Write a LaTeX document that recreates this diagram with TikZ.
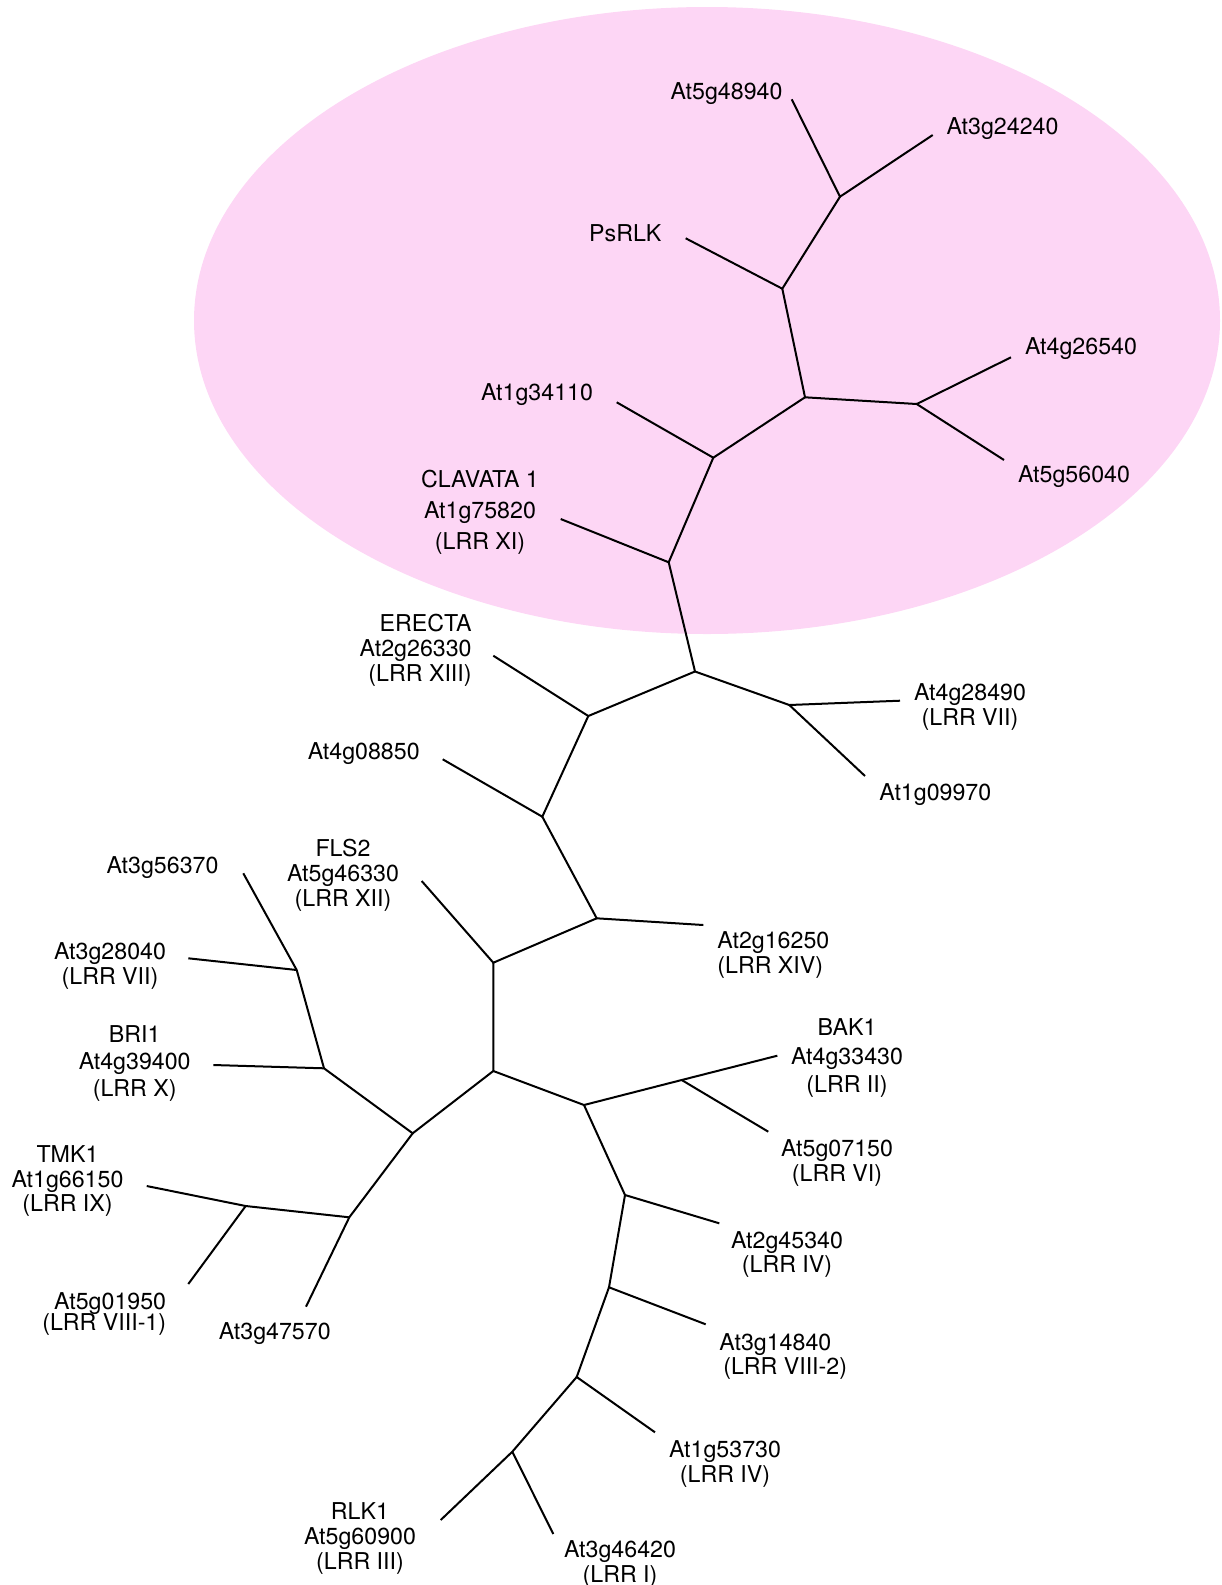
\documentclass[tikz,border=0pt]{standalone}
\usepackage{fontspec}
\setmainfont{TeX Gyre Heros}
\definecolor{clade_pink}{RGB}{253, 214, 245}
\tikzstyle{lbl}=[inner sep=0pt,align=center,font=\fontsize{11.6}{12.4}\selectfont]
\tikzstyle{br}=[line width=1pt]

\begin{document}
\begin{tikzpicture}[x=0.5pt,y=-0.5pt]
        \useasboundingbox (0,0) rectangle (1221,1585);
        \fill[clade_pink] (707,320.5) ellipse (513 and 313.5);

        % branch points
        \coordinate (jA) at (840,196.7);
        \coordinate (jB) at (782.3,288.7);
        \coordinate (jC) at (805,397.3);
        \coordinate (jD) at (916.7,404);
        \coordinate (jE) at (713.3,457.7);
        \coordinate (jF) at (668.7,562.3);
        \coordinate (jG) at (695,671.5);
        \coordinate (jJ) at (789.3,705);
        \coordinate (jH) at (588.3,716);
        \coordinate (jI) at (542.3,816.7);
        \coordinate (jK) at (596.7,918.3);
        \coordinate (jL) at (493.3,962.7);
        \coordinate (jM) at (493.3,1071);
        \coordinate (jN) at (584,1105);
        \coordinate (jT) at (681.7,1080);
        \coordinate (jU) at (625,1195);
        \coordinate (jV) at (609,1287.3);
        \coordinate (jW) at (576.7,1377);
        \coordinate (jX) at (512.3,1451.7);
        \coordinate (jQ) at (412.7,1133.3);
        \coordinate (jP) at (324,1068.3);
        \coordinate (jO) at (296.7,970);
        \coordinate (jS) at (349.3,1217.3);
        \coordinate (jR) at (245.7,1206);

        % leaf ends
        \coordinate (e5g48940) at (791.7,99.3);
        \coordinate (e3g24240) at (932.7,135);
        \coordinate (ePsRLK) at (685.7,238.3);
        \coordinate (e4g26540) at (1011,357.3);
        \coordinate (e5g56040) at (1004,460);
        \coordinate (e1g34110) at (616.7,402.3);
        \coordinate (eCLV) at (560.7,519);
        \coordinate (e4g28490) at (900,700.7);
        \coordinate (e1g09970) at (865,776);
        \coordinate (eERECTA) at (493.3,655.7);
        \coordinate (e4g08850) at (442.7,759.3);
        \coordinate (e2g16250) at (703.3,925);
        \coordinate (eFLS2) at (421.7,881);
        \coordinate (eBAK1) at (777.3,1055.7);
        \coordinate (e5g07150) at (768.3,1131.7);
        \coordinate (e2g45340) at (719.3,1223.3);
        \coordinate (e3g14840) at (705.7,1324.3);
        \coordinate (e1g53730) at (655,1432.3);
        \coordinate (eRLK1) at (440.7,1520);
        \coordinate (e3g46420) at (553.3,1534);
        \coordinate (eBRI1) at (213.3,1065);
        \coordinate (e3g56370) at (243.3,873.3);
        \coordinate (e3g28040) at (188.3,958.3);
        \coordinate (e3g47570) at (306,1306.7);
        \coordinate (eTMK1) at (146.7,1186);
        \coordinate (e5g01950) at (188.3,1284);

        % labels
        \node[style=lbl] (l5g48940) at (726.5,94) {At5g48940};
        \node[style=lbl] (l3g24240) at (1002.5,129) {At3g24240};
        \node[style=lbl] (lPsRLK) at (625.3,233) {PsRLK};
        \node[style=lbl] (l4g26540) at (1081,349) {At4g26540};
        \node[style=lbl] (l5g56040) at (1074,477) {At5g56040};
        \node[style=lbl] (l1g34110) at (537,395) {At1g34110};
        \node[style=lbl] (lCLV) at (480,512) {CLAVATA 1\\[3pt]At1g75820\\[3pt](LRR XI)};
        \node[style=lbl,align=right,anchor=east] (lERECTA) at (472,650) {ERECTA\\At2g26330\\(LRR XIII)};
        \node[style=lbl] (l4g08850) at (363.7,754) {At4g08850};
        \node[style=lbl] (l4g28490) at (970,707) {At4g28490\\(LRR VII)};
        \node[style=lbl] (l1g09970) at (935.3,795) {At1g09970};
        \node[style=lbl] (lFLS2) at (343,875) {FLS2\\At5g46330\\(LRR XII)};
        \node[style=lbl] (l3g56370) at (162.5,868) {At3g56370};
        \node[style=lbl,align=left,anchor=west] (l2g16250) at (717,955) {At2g16250\\(LRR XIV)};
        \node[style=lbl] (l3g28040) at (110,966) {At3g28040\\(LRR VII)};
        \node[style=lbl] (lBRI1) at (134.7,1063.5) {BRI1\\[1pt]At4g39400\\[1pt](LRR X)};
        \node[style=lbl] (lBAK1) at (847,1058) {BAK1\\[2pt]At4g33430\\[2pt](LRR II)};
        \node[style=lbl] (l5g07150) at (837,1163) {At5g07150\\(LRR VI)};
        \node[style=lbl] (lTMK1) at (67.5,1181) {TMK1\\At1g66150\\(LRR IX)};
        \node[style=lbl,align=right,anchor=east] (l5g01950) at (166.5,1314) {At5g01950\\[-1.5pt](LRR VIII-1)};
        \node[style=lbl] (l3g47570) at (274.7,1334) {At3g47570};
        \node[style=lbl] (l2g45340) at (787,1254.5) {At2g45340\\(LRR IV)};
        \node[style=lbl,align=left,anchor=west] (l3g14840) at (719,1356.5) {At3g14840\\\,(LRR VIII-2)};
        \node[style=lbl] (l1g53730) at (725,1464) {At1g53730\\(LRR IV)};
        \node[style=lbl] (lRLK1) at (360,1538.7) {RLK1\\At5g60900\\(LRR III)};
        \node[style=lbl] (l3g46420) at (620,1564) {At3g46420\\(LRR I)};

        % branches
        \draw[style=br] (e5g48940) to (jA) to (e3g24240);
        \draw[style=br] (jA) to (jB) to (ePsRLK);
        \draw[style=br] (jB) to (jC) to (jD);
        \draw[style=br] (e4g26540) to (jD) to (e5g56040);
        \draw[style=br] (jC) to (jE) to (e1g34110);
        \draw[style=br] (jE) to (jF) to (eCLV);
        \draw[style=br] (jF) to (jG) to (jJ);
        \draw[style=br] (e4g28490) to (jJ) to (e1g09970);
        \draw[style=br] (jG) to (jH) to (eERECTA);
        \draw[style=br] (jH) to (jI) to (e4g08850);
        \draw[style=br] (jI) to (jK) to (e2g16250);
        \draw[style=br] (jK) to (jL) to (eFLS2);
        \draw[style=br] (jL) to (jM) to (jN);
        \draw[style=br] (jN) to (jT) to (eBAK1);
        \draw[style=br] (jT) to (e5g07150);
        \draw[style=br] (jN) to (jU) to (e2g45340);
        \draw[style=br] (jU) to (jV) to (e3g14840);
        \draw[style=br] (jV) to (jW) to (e1g53730);
        \draw[style=br] (jW) to (jX) to (eRLK1);
        \draw[style=br] (jX) to (e3g46420);
        \draw[style=br] (jM) to (jQ) to (jP) to (eBRI1);
        \draw[style=br] (jP) to (jO) to (e3g56370);
        \draw[style=br] (jO) to (e3g28040);
        \draw[style=br] (jQ) to (jS) to (e3g47570);
        \draw[style=br] (jS) to (jR) to (eTMK1);
        \draw[style=br] (jR) to (e5g01950);
\end{tikzpicture}
\end{document}
